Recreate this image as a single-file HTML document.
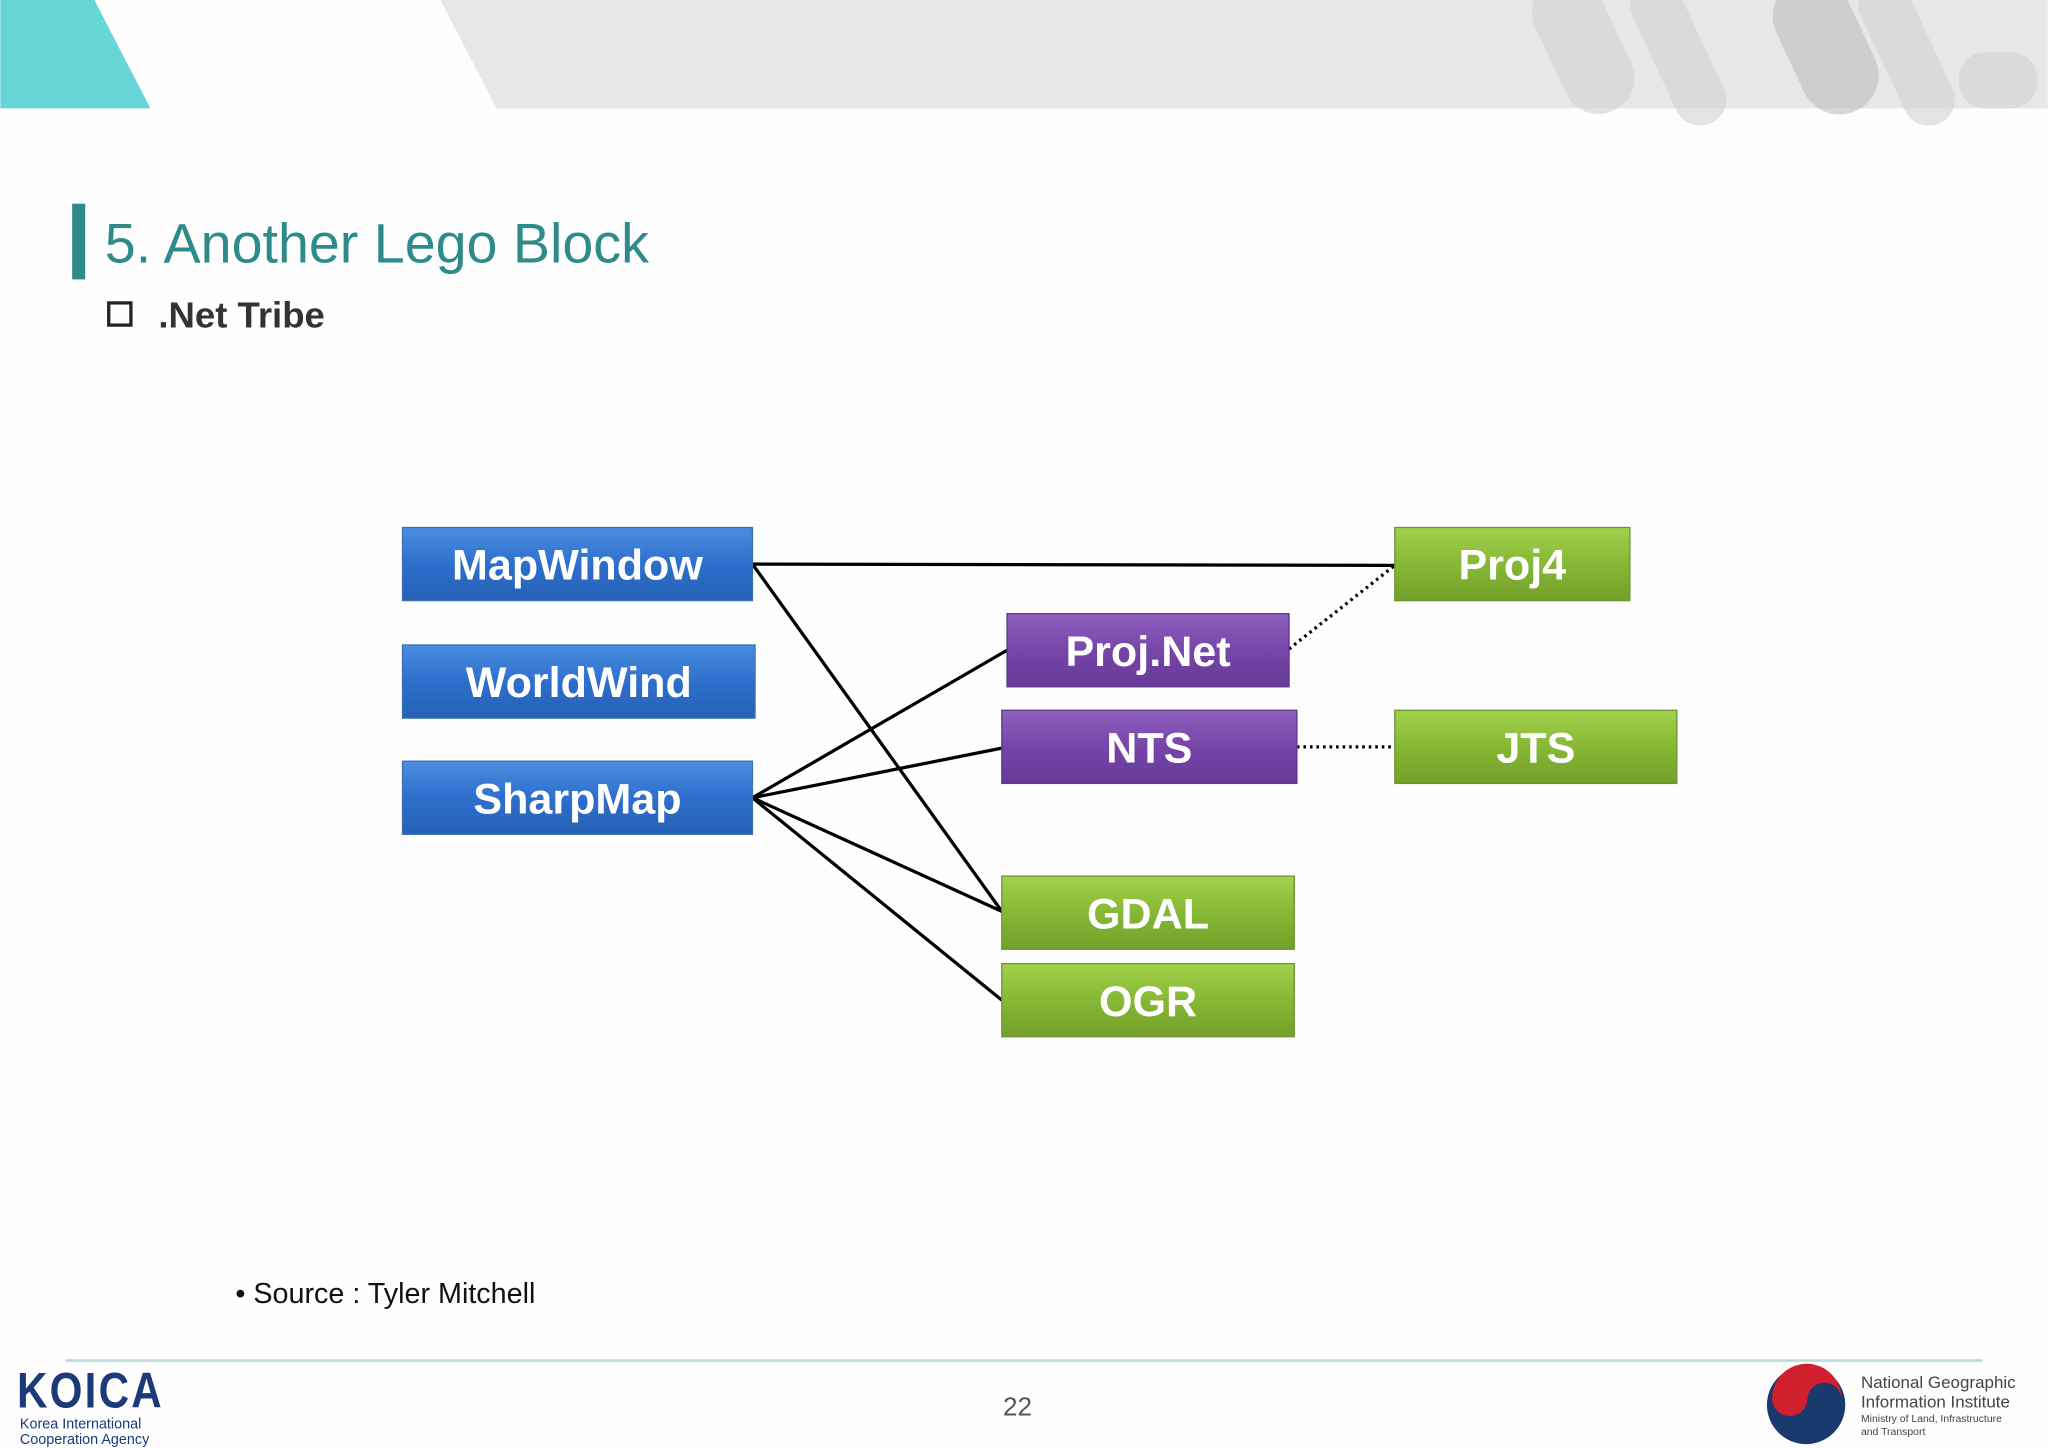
<!DOCTYPE html>
<html><head><meta charset="utf-8"><style>
html,body{margin:0;padding:0;background:#fefefe;width:2048px;height:1448px;overflow:hidden}
svg{display:block}
text{font-family:"Liberation Sans",Arial,sans-serif}
</style></head><body>
<svg width="2048" height="1448" viewBox="0 0 1568 1109" xmlns="http://www.w3.org/2000/svg">
<defs>
<linearGradient id="gb" x1="0" y1="0" x2="0" y2="1"><stop offset="0" stop-color="#4a8ee0"/><stop offset="0.5" stop-color="#2e6fcc"/><stop offset="1" stop-color="#2560b5"/></linearGradient>
<linearGradient id="gp" x1="0" y1="0" x2="0" y2="1"><stop offset="0" stop-color="#9060c0"/><stop offset="0.5" stop-color="#7545a8"/><stop offset="1" stop-color="#683a98"/></linearGradient>
<linearGradient id="gg" x1="0" y1="0" x2="0" y2="1"><stop offset="0" stop-color="#a3d14c"/><stop offset="0.5" stop-color="#86b835"/><stop offset="1" stop-color="#73a02a"/></linearGradient>
</defs>
<rect width="1568" height="1109" fill="#fefefe"/>
<polygon points="0,0 72,0 115,83 0,83" fill="#66d6d6"/>
<polygon points="337,0 1568,0 1568,83 380,83" fill="#e7e8e6"/>
<g fill="#d2d3d0" opacity="0.6">
<rect x="1185" y="-20" width="55" height="110" rx="27" transform="rotate(-25 1212 35)"/>
<rect x="1265" y="-20" width="40" height="120" rx="20" transform="rotate(-25 1285 40)"/>
<rect x="1368" y="-20" width="60" height="110" rx="30" transform="rotate(-25 1398 35)" fill="#bfc0bd"/>
<rect x="1440" y="-20" width="40" height="120" rx="20" transform="rotate(-25 1460 40)"/>
<rect x="1500" y="40" width="60" height="43" rx="20"/>
</g>
<rect x="55" y="156" width="10" height="58" fill="#2e8b8a"/>
<text x="80" y="201" font-size="42.6" fill="#2e8b8a">5. Another Lego Block</text>
<rect x="83" y="232" width="17" height="17" fill="none" stroke="#222" stroke-width="2.5"/>
<text x="121" y="251" font-size="28" font-weight="bold" fill="#333">.Net Tribe</text>
<g stroke="#000" stroke-width="2.5" fill="none">
<line x1="576" y1="432" x2="1068" y2="433"/>
<line x1="576" y1="432" x2="767" y2="698"/>
<line x1="576" y1="611" x2="771" y2="498"/>
<line x1="576" y1="611" x2="767" y2="573"/>
<line x1="576" y1="611" x2="767" y2="698"/>
<line x1="576" y1="611" x2="767" y2="766"/>
</g>
<g stroke="#000" stroke-width="2.5" stroke-dasharray="2,3" fill="none">
<line x1="987" y1="497" x2="1068" y2="433"/>
<line x1="993" y1="572" x2="1068" y2="572"/>
</g>
<g font-size="33" font-weight="bold" fill="#fff" text-anchor="middle">
<rect x="308" y="404" width="268" height="56" fill="url(#gb)" stroke="#3a6fb0"/>
<text x="442" y="444">MapWindow</text>
<rect x="308" y="494" width="270" height="56" fill="url(#gb)" stroke="#3a6fb0"/>
<text x="443" y="534">WorldWind</text>
<rect x="308" y="583" width="268" height="56" fill="url(#gb)" stroke="#3a6fb0"/>
<text x="442" y="623">SharpMap</text>
<rect x="771" y="470" width="216" height="56" fill="url(#gp)" stroke="#5c3a88"/>
<text x="879" y="510">Proj.Net</text>
<rect x="767" y="544" width="226" height="56" fill="url(#gp)" stroke="#5c3a88"/>
<text x="880" y="584">NTS</text>
<rect x="1068" y="404" width="180" height="56" fill="url(#gg)" stroke="#6a9530"/>
<text x="1158" y="444">Proj4</text>
<rect x="1068" y="544" width="216" height="56" fill="url(#gg)" stroke="#6a9530"/>
<text x="1176" y="584">JTS</text>
<rect x="767" y="671" width="224" height="56" fill="url(#gg)" stroke="#6a9530"/>
<text x="879" y="711">GDAL</text>
<rect x="767" y="738" width="224" height="56" fill="url(#gg)" stroke="#6a9530"/>
<text x="879" y="778">OGR</text>
</g>
<text x="180" y="998" font-size="22" fill="#111">• Source : Tyler Mitchell</text>
<line x1="50" y1="1042" x2="1518" y2="1042" stroke="#b9dcd8" stroke-width="2"/>
<text x="15" y="1078" font-size="38" font-weight="bold" fill="#1a3a7a" transform="scale(0.85,1)" style="letter-spacing:2px">KOICA</text>
<text x="15" y="1094" font-size="11" fill="#1a3a7a" font-family="Liberation Serif,serif">Korea International</text>
<text x="15" y="1106" font-size="11" fill="#1a3a7a" font-family="Liberation Serif,serif">Cooperation Agency</text>
<text x="779" y="1084" font-size="20" fill="#555" text-anchor="middle">22</text>
<circle cx="1383" cy="1076" r="30" fill="#1a3a6e"/>
<path d="M1357,1070 A26,26 0 0 1 1410,1072 A13,13 0 0 0 1384,1072 A13,13 0 0 1 1357,1070Z" fill="#d0202e"/>
<text x="1425" y="1063" font-size="13" fill="#444">National Geographic</text>
<text x="1425" y="1078" font-size="13" fill="#444">Information Institute</text>
<text x="1425" y="1089" font-size="8" fill="#444">Ministry of Land, Infrastructure</text>
<text x="1425" y="1099" font-size="8" fill="#444">and Transport</text>
</svg>
</body></html>
